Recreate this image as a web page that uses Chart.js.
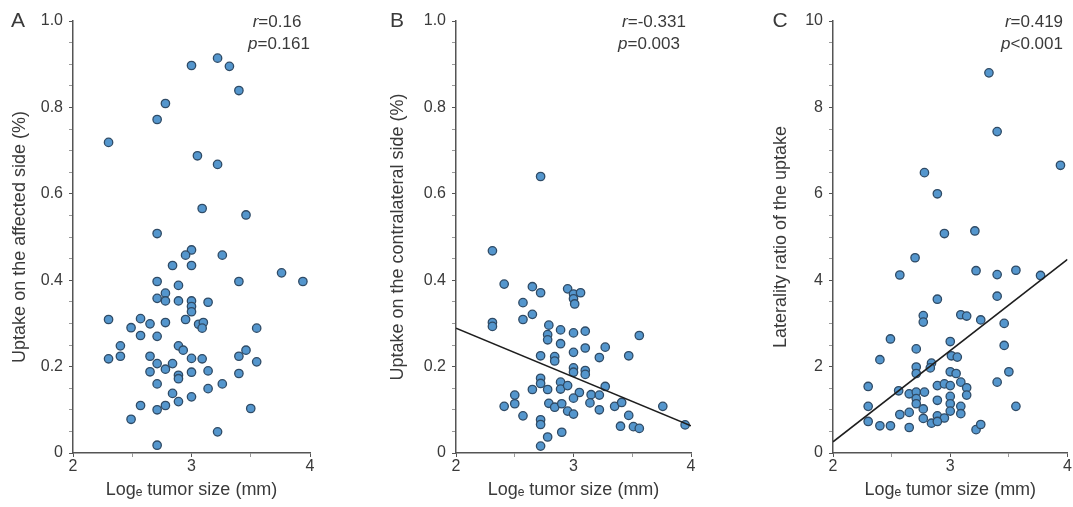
<!DOCTYPE html>
<html>
<head>
<meta charset="utf-8">
<script src="https://cdn.jsdelivr.net/npm/chart.js@4.4.1/dist/chart.umd.min.js"></script>
<style>
  body { margin: 0; background: #fff; }
  #wrap { position: relative; width: 1073px; height: 507px; }
  canvas { position: absolute; top: 0; }
</style>
</head>
<body>
<div id="wrap">
  <canvas id="chartA" width="357" height="507" style="left:0px"></canvas>
  <canvas id="chartB" width="335" height="507" style="left:380px"></canvas>
  <canvas id="chartC" width="313" height="507" style="left:760px"></canvas>
</div>
<script>
// Panel A - uptake on the affected side
const aLogSize = [2.30, 3.00, 3.22, 3.32, 3.40, 2.78, 2.71, 3.05, 3.22, 3.09, 3.46, 2.71, 3.00, 2.95, 3.26,
  2.84, 3.00, 2.71, 3.40, 3.76, 3.94, 2.89, 2.78, 2.71, 2.78, 2.89, 3.00, 3.14, 3.00, 3.00,
  2.30, 2.57, 2.65, 2.78, 2.95, 3.06, 3.10, 3.09, 2.49, 3.55, 2.57, 2.71, 2.40, 2.89, 2.93,
  3.46, 3.40, 2.30, 2.40, 2.65, 3.00, 3.09, 2.71, 2.84, 3.55, 2.78, 2.65, 3.00, 3.14, 3.40,
  2.89, 2.89, 2.71, 3.26, 3.14, 2.84, 3.00, 2.89, 2.57, 2.78, 2.71, 3.50, 2.49, 3.22, 2.71];
const aUptake = [0.719, 0.897, 0.914, 0.895, 0.839, 0.809, 0.772, 0.688, 0.668, 0.566, 0.551, 0.508, 0.470, 0.458, 0.458,
  0.434, 0.434, 0.397, 0.397, 0.417, 0.397, 0.388, 0.370, 0.358, 0.352, 0.352, 0.352, 0.349, 0.339, 0.327,
  0.309, 0.311, 0.299, 0.302, 0.309, 0.298, 0.302, 0.289, 0.290, 0.289, 0.272, 0.270, 0.248, 0.248, 0.238,
  0.238, 0.224, 0.218, 0.224, 0.224, 0.219, 0.218, 0.207, 0.207, 0.211, 0.194, 0.188, 0.187, 0.190, 0.184,
  0.180, 0.172, 0.160, 0.160, 0.149, 0.138, 0.130, 0.119, 0.110, 0.110, 0.100, 0.103, 0.078, 0.049, 0.018];

// Panel B - uptake on the contralateral side
const bLogSize = [2.72, 2.31, 2.41, 2.65, 2.72, 2.57, 2.65, 2.57, 2.31, 2.31, 2.95, 3.00, 3.00, 3.06, 3.01,
  2.79, 2.78, 2.78, 2.89, 3.00, 3.10, 3.56, 2.89, 3.10, 3.27, 3.00, 3.22, 3.47, 2.72, 2.84,
  2.84, 3.00, 3.00, 3.10, 3.10, 2.72, 2.72, 2.78, 2.65, 2.89, 2.89, 2.95, 3.27, 3.05, 3.00,
  3.15, 3.22, 2.50, 2.50, 2.41, 3.14, 2.79, 2.84, 2.90, 2.95, 3.00, 3.22, 3.35, 3.41, 3.76,
  2.57, 2.72, 2.72, 3.47, 3.40, 3.51, 3.56, 3.95, 2.90, 2.78, 2.72];
const bUptake = [0.640, 0.468, 0.391, 0.385, 0.371, 0.348, 0.321, 0.309, 0.302, 0.293, 0.380, 0.368, 0.357, 0.371, 0.345,
  0.296, 0.274, 0.262, 0.285, 0.278, 0.282, 0.272, 0.253, 0.243, 0.245, 0.233, 0.221, 0.225, 0.225, 0.223,
  0.213, 0.197, 0.187, 0.191, 0.182, 0.173, 0.161, 0.147, 0.147, 0.164, 0.148, 0.156, 0.154, 0.140, 0.127,
  0.135, 0.134, 0.134, 0.114, 0.108, 0.116, 0.115, 0.106, 0.114, 0.097, 0.090, 0.100, 0.108, 0.117, 0.108,
  0.086, 0.077, 0.066, 0.087, 0.062, 0.061, 0.057, 0.065, 0.048, 0.037, 0.016];
const bFitX = [2, 4];
const bFitY = [0.289, 0.063];

// Panel C - laterality ratio
const cLogSize = [3.33, 3.40, 3.94, 2.78, 2.89, 2.95, 3.21, 2.70, 2.57, 3.22, 3.40, 3.56, 3.77, 2.89, 3.40,
  2.77, 2.77, 3.09, 3.14, 3.26, 3.46, 2.49, 3.00, 3.46, 2.71, 2.40, 3.01, 3.06, 2.84, 2.71,
  2.71, 3.00, 3.05, 3.50, 3.40, 2.83, 2.30, 2.56, 2.65, 2.71, 2.78, 2.89, 2.95, 3.00, 3.09,
  3.14, 3.14, 2.71, 2.71, 2.89, 3.00, 3.00, 3.09, 3.56, 2.30, 3.00, 3.09, 2.65, 2.57, 2.77,
  2.77, 2.89, 2.95, 2.84, 2.89, 2.30, 2.40, 2.49, 2.65, 3.22, 3.26];
const cRatio = [8.80, 7.44, 6.66, 6.49, 6.00, 5.08, 5.14, 4.52, 4.12, 4.22, 4.13, 4.23, 4.11, 3.56, 3.63,
  3.18, 3.03, 3.20, 3.17, 3.08, 3.00, 2.64, 2.58, 2.49, 2.41, 2.16, 2.25, 2.22, 2.08, 1.99,
  1.84, 1.88, 1.84, 1.88, 1.64, 1.97, 1.54, 1.44, 1.37, 1.41, 1.41, 1.56, 1.60, 1.56, 1.64,
  1.51, 1.34, 1.26, 1.14, 1.22, 1.31, 1.14, 1.08, 1.08, 1.08, 0.97, 0.91, 0.94, 0.89, 1.02,
  0.80, 0.86, 0.81, 0.69, 0.73, 0.73, 0.63, 0.63, 0.59, 0.54, 0.66];
const cFitX = [2, 4];
const cFitY = [0.26, 4.48];

const xTitle = 'Logₑ tumor size (mm)';
const FONT = "'Liberation Sans', Arial, sans-serif";
const textColor = '#3a3a3a';
const axisColor = '#555';

const toPoints = (xs, ys) => xs.map((x, i) => ({ x, y: ys[i] }));

// panel letter + r / p text
const labelPlugin = {
    id: 'panelLabels',
    afterDraw(chart) {
        const o = chart.options.plugins.panelLabels;
        if (!o) return;
        const ctx = chart.ctx;
        ctx.save();
        ctx.fillStyle = textColor;
        ctx.textBaseline = 'middle';
        ctx.font = `21px ${FONT}`;
        ctx.textAlign = 'center';
        ctx.fillText(o.letter, o.letterX, 21);

        // italic symbol followed by normal text, centred on cx
        const mixed = (sym, rest, cx, y) => {
            ctx.textAlign = 'left';
            ctx.font = `italic 17px ${FONT}`;
            const w1 = ctx.measureText(sym).width;
            ctx.font = `17px ${FONT}`;
            const w2 = ctx.measureText(rest).width;
            let x = cx - (w1 + w2) / 2;
            ctx.font = `italic 17px ${FONT}`;
            ctx.fillText(sym, x, y);
            ctx.font = `17px ${FONT}`;
            ctx.fillText(rest, x + w1, y);
        };
        mixed('r', o.r, o.rX, 22);
        mixed('p', o.p, o.pX, 44);
        ctx.restore();
    }
};

function makePanel(id, cfg) {
    const datasets = [{
        type: 'scatter',
        data: toPoints(cfg.xs, cfg.ys),
        backgroundColor: '#5496cd',
        borderColor: '#2f4b66',
        borderWidth: 1.3,
        pointRadius: 4.2,
        pointHoverRadius: 4.2,
        order: 1
    }];
    if (cfg.fitX) {
        datasets.push({
            type: 'line',
            data: toPoints(cfg.fitX, cfg.fitY),
            borderColor: '#1e1e1e',
            borderWidth: 1.6,
            pointRadius: 0,
            fill: false,
            order: 0
        });
    }

    const majorY = v => Math.round(v / cfg.yStep) % cfg.yEvery === 0;

    return new Chart(document.getElementById(id).getContext('2d'), {
        type: 'scatter',
        data: { datasets },
        plugins: [labelPlugin],
        options: {
            responsive: false,
            animation: false,
            layout: { padding: { top: 21, right: cfg.padRight, left: 0, bottom: 0 } },
            plugins: {
                legend: { display: false },
                tooltip: { enabled: false },
                panelLabels: cfg.labels
            },
            scales: {
                x: {
                    type: 'linear',
                    min: 2,
                    max: 4,
                    border: { color: axisColor, width: 1.5 },
                    grid: {
                        drawOnChartArea: false,
                        tickLength: 4,
                        tickColor: c => Number.isInteger(c.tick.value) ? axisColor : '#999'
                    },
                    ticks: {
                        stepSize: 0.5,
                        autoSkip: false,
                        maxRotation: 0,
                        padding: 0,
                        color: textColor,
                        font: { family: FONT, size: 16 },
                        callback: v => Number.isInteger(v) ? String(v) : ''
                    },
                    title: {
                        display: true,
                        text: xTitle,
                        color: textColor,
                        font: { family: FONT, size: 18 },
                        padding: { top: 0, bottom: 6 }
                    },
                    afterFit: s => { s.height = 54; s.paddingLeft = 0; s.paddingRight = 0; }
                },
                y: {
                    min: 0,
                    max: cfg.yMax,
                    border: { color: axisColor, width: 1.5 },
                    grid: {
                        drawOnChartArea: false,
                        tickLength: 4,
                        tickColor: c => majorY(c.tick.value) ? axisColor : '#999'
                    },
                    ticks: {
                        stepSize: cfg.yStep,
                        autoSkip: false,
                        padding: 6,
                        color: textColor,
                        font: { family: FONT, size: 16 },
                        callback: v => majorY(v) ? cfg.fmt(v) : ''
                    },
                    title: {
                        display: true,
                        text: cfg.yTitle,
                        color: textColor,
                        font: { family: FONT, size: 18 },
                        padding: { top: cfg.titlePad, bottom: 0 }
                    },
                    afterFit: s => { s.width = cfg.yWidth; s.paddingTop = 0; s.paddingBottom = 0; }
                }
            }
        }
    });
}

const fmtFrac = v => Math.abs(v) < 1e-9 ? '0' : v.toFixed(1);
const fmtInt = v => String(Math.round(v));

makePanel('chartA', {
    xs: aLogSize, ys: aUptake,
    yMax: 1, yStep: 0.05, yEvery: 4, fmt: fmtFrac,
    yTitle: 'Uptake on the affected side (%)',
    yWidth: 73, padRight: 47, titlePad: 9,
    labels: { letter: 'A', letterX: 18, r: '=0.16', p: '=0.161', rX: 277, pX: 279 }
});

makePanel('chartB', {
    xs: bLogSize, ys: bUptake, fitX: bFitX, fitY: bFitY,
    yMax: 1, yStep: 0.05, yEvery: 4, fmt: fmtFrac,
    yTitle: 'Uptake on the contralateral side (%)',
    yWidth: 76, padRight: 24, titlePad: 7,
    labels: { letter: 'B', letterX: 17, r: '=-0.331', p: '=0.003', rX: 274, pX: 269 }
});

makePanel('chartC', {
    xs: cLogSize, ys: cRatio, fitX: cFitX, fitY: cFitY,
    yMax: 10, yStep: 0.5, yEvery: 4, fmt: fmtInt,
    yTitle: 'Laterality ratio of the uptake',
    yWidth: 73, padRight: 4, titlePad: 10,
    labels: { letter: 'C', letterX: 20, r: '=0.419', p: '<0.001', rX: 274, pX: 272 }
});
</script>
</body>
</html>
